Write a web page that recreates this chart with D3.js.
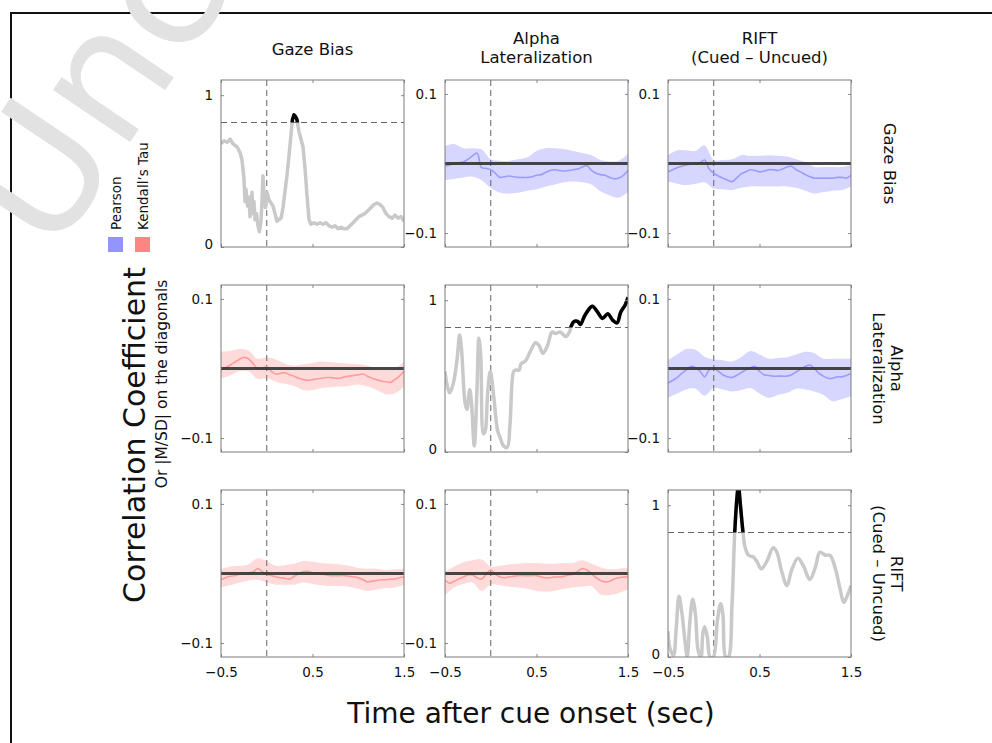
<!DOCTYPE html>
<html>
<head>
<meta charset="utf-8">
<script src="https://cdn.jsdelivr.net/npm/d3@7"></script>
<style>
  body { margin: 0; background: #fff; }
  text { font-family: "DejaVu Sans", "Noto Sans", sans-serif; fill: #111; }
</style>
</head>
<body>
<svg width="992" height="743"></svg>
<script>
// ---- data ----
const measures = ["Gaze Bias", "Alpha Lateralization", "RIFT (Cued – Uncued)"];
const colTitles = [["Gaze Bias"], ["Alpha", "Lateralization"], ["RIFT", "(Cued – Uncued)"]];
const xTicks = [-0.5, 0.5, 1.5];
const corrTicks = [-0.1, 0.1];
const diagTicks = [0, 1];
const threshold = 0.82;

// time grids (sec) for the off-diagonal panels
const tMean = d3.range(41).map(i => -0.5 + i * 0.05);
const tBand = d3.range(21).map(i => -0.5 + i * 0.1);

// diagonal: |M/SD|
const gazeDiagT = [-0.5,-0.467,-0.434,-0.4,-0.369,-0.325,-0.29,-0.27,-0.249,-0.238,-0.227,-0.21,-0.194,-0.183,-0.172,-0.161,-0.15,-0.14,-0.128,-0.112,-0.096,-0.08,-0.063,-0.052,-0.041,-0.03,-0.014,0.003,0.025,0.046,0.068,0.09,0.112,0.134,0.156,0.178,0.2,0.221,0.243,0.265,0.281,0.298,0.314,0.33,0.352,0.374,0.396,0.418,0.44,0.462,0.484,0.516,0.549,0.582,0.615,0.648,0.68,0.713,0.746,0.779,0.811,0.844,0.877,0.91,0.943,0.975,1.008,1.041,1.074,1.107,1.139,1.172,1.205,1.238,1.27,1.303,1.336,1.369,1.402,1.434,1.467,1.5];
const gazeDiagV = [0.68,0.70,0.69,0.71,0.68,0.66,0.62,0.57,0.45,0.30,0.38,0.27,0.33,0.20,0.28,0.36,0.22,0.30,0.18,0.22,0.14,0.10,0.17,0.30,0.47,0.34,0.26,0.36,0.31,0.29,0.27,0.22,0.17,0.18,0.19,0.26,0.37,0.47,0.60,0.74,0.84,0.87,0.86,0.84,0.76,0.71,0.66,0.52,0.34,0.18,0.15,0.16,0.15,0.16,0.15,0.16,0.14,0.13,0.14,0.12,0.13,0.12,0.12,0.14,0.16,0.18,0.20,0.21,0.22,0.24,0.26,0.28,0.29,0.28,0.26,0.22,0.20,0.19,0.21,0.19,0.20,0.17];

const alphaDiagT = [-0.5,-0.48,-0.45,-0.41,-0.37,-0.34,-0.32,-0.28,-0.26,-0.23,-0.21,-0.18,-0.15,-0.13,-0.11,-0.08,-0.06,-0.035,-0.005,0.03,0.075,0.1,0.14,0.18,0.21,0.25,0.27,0.31,0.33,0.38,0.43,0.49,0.53,0.57,0.62,0.67,0.71,0.76,0.82,0.86,0.88,0.91,0.95,0.98,1.02,1.06,1.11,1.17,1.22,1.28,1.33,1.38,1.42,1.47,1.5];
const alphaDiagV = [0.53,0.45,0.39,0.45,0.60,0.77,0.68,0.32,0.28,0.41,0.32,0.04,0.42,0.75,0.64,0.12,0.14,0.38,0.53,0.38,0.14,0.10,0.04,0.03,0.18,0.53,0.54,0.54,0.58,0.60,0.66,0.72,0.70,0.65,0.70,0.79,0.78,0.79,0.76,0.79,0.83,0.86,0.86,0.84,0.89,0.93,0.96,0.92,0.88,0.91,0.87,0.85,0.92,0.97,1.02];

const riftDiagT = [-0.5,-0.48,-0.44,-0.41,-0.38,-0.35,-0.31,-0.29,-0.26,-0.23,-0.2,-0.17,-0.14,-0.12,-0.1,-0.07,-0.04,-0.005,0.04,0.075,0.1,0.13,0.16,0.2,0.23,0.26,0.27,0.29,0.32,0.34,0.38,0.43,0.47,0.52,0.58,0.65,0.69,0.74,0.8,0.85,0.92,0.98,1.05,1.11,1.16,1.22,1.27,1.33,1.38,1.42,1.45,1.5];
const riftDiagV = [0.17,0.06,0.01,0.19,0.40,0.30,0.08,0.0,0.24,0.38,0.28,0.04,0.0,0.15,0.20,0.13,0.0,0.0,0.24,0.35,0.28,0.0,0.0,0.35,0.83,1.09,1.13,1.01,0.82,0.73,0.67,0.66,0.63,0.58,0.63,0.72,0.69,0.57,0.47,0.57,0.65,0.60,0.51,0.59,0.69,0.67,0.67,0.58,0.45,0.36,0.39,0.47];

// off-diagonal: correlation mean (tMean grid) and band lo/hi (tBand grid)
// upper triangle: Pearson, lower triangle: Kendall's Tau
const gazeAlphaMean = [-0.004,-0.002,0.0,0.001,0.002,0.006,0.011,0.015,-0.006,-0.007,-0.009,-0.014,-0.020,-0.019,-0.018,-0.019,-0.020,-0.020,-0.020,-0.019,-0.017,-0.016,-0.013,-0.010,-0.009,-0.010,-0.011,-0.010,-0.009,-0.008,-0.005,-0.003,-0.010,-0.014,-0.016,-0.017,-0.020,-0.022,-0.021,-0.017,-0.010];
const gazeAlphaHi = [0.025,0.028,0.022,0.022,0.020,0.006,0.004,0.004,0.006,0.009,0.018,0.022,0.022,0.021,0.018,0.015,0.012,0.005,0.003,0.004,0.014];
const gazeAlphaLo = [-0.024,-0.022,-0.020,-0.019,-0.024,-0.035,-0.042,-0.043,-0.042,-0.039,-0.037,-0.033,-0.030,-0.027,-0.026,-0.027,-0.030,-0.040,-0.046,-0.049,-0.041];

const gazeRiftMean = [-0.012,-0.009,-0.006,-0.004,-0.002,-0.001,-0.001,0.001,0.005,-0.008,-0.014,-0.018,-0.021,-0.024,-0.026,-0.021,-0.015,-0.012,-0.009,-0.010,-0.012,-0.011,-0.009,-0.009,-0.010,-0.008,-0.005,-0.004,-0.009,-0.012,-0.016,-0.019,-0.021,-0.021,-0.021,-0.021,-0.021,-0.020,-0.020,-0.021,-0.017];
const gazeRiftHi = [0.012,0.019,0.019,0.018,0.026,0.005,0.005,0.006,0.012,0.011,0.011,0.012,0.011,0.010,0.006,0.002,-0.005,-0.005,-0.005,-0.005,-0.002];
const gazeRiftLo = [-0.026,-0.029,-0.031,-0.029,-0.027,-0.036,-0.037,-0.038,-0.035,-0.033,-0.033,-0.033,-0.033,-0.033,-0.035,-0.039,-0.043,-0.041,-0.039,-0.038,-0.033];

const alphaRiftMean = [-0.021,-0.017,-0.013,-0.007,-0.002,0.003,0.001,-0.004,-0.012,-0.002,0.0,-0.004,-0.009,-0.012,-0.013,-0.010,-0.006,-0.002,0.001,0.003,-0.004,-0.009,-0.010,-0.011,-0.011,-0.011,-0.011,-0.009,-0.005,-0.001,0.003,0.005,0.0,-0.007,-0.011,-0.014,-0.014,-0.012,-0.012,-0.010,-0.007];
const alphaRiftHi = [0.012,0.020,0.028,0.027,0.017,0.013,0.012,0.010,0.016,0.025,0.020,0.014,0.015,0.016,0.020,0.024,0.022,0.014,0.014,0.014,0.014];
const alphaRiftLo = [-0.042,-0.036,-0.030,-0.029,-0.039,-0.028,-0.030,-0.033,-0.031,-0.028,-0.036,-0.042,-0.038,-0.035,-0.029,-0.030,-0.033,-0.038,-0.047,-0.044,-0.040];

const alphaGazeMean = [-0.002,0.001,0.005,0.009,0.013,0.016,0.014,0.007,0.0,0.001,0.002,-0.004,-0.008,-0.007,-0.006,-0.009,-0.011,-0.014,-0.016,-0.017,-0.016,-0.015,-0.014,-0.013,-0.013,-0.014,-0.014,-0.012,-0.011,-0.010,-0.009,-0.008,-0.011,-0.014,-0.016,-0.018,-0.019,-0.020,-0.016,-0.011,-0.004];
const alphaGazeHi = [0.024,0.025,0.028,0.026,0.014,0.016,0.013,0.007,0.004,0.006,0.008,0.010,0.009,0.008,0.007,0.006,0.004,0.0,-0.001,0.0,0.010];
const alphaGazeLo = [-0.014,-0.010,-0.004,-0.004,-0.015,-0.014,-0.019,-0.022,-0.025,-0.031,-0.031,-0.028,-0.027,-0.026,-0.025,-0.023,-0.026,-0.031,-0.037,-0.036,-0.026];

const riftGazeMean = [-0.009,-0.006,-0.004,-0.003,-0.001,0.0,0.001,0.002,0.007,0.003,-0.001,-0.003,-0.005,-0.006,-0.007,-0.008,-0.004,0.0,0.003,0.003,0.001,0.0,-0.001,-0.002,-0.003,-0.003,-0.003,-0.003,-0.004,-0.005,-0.006,-0.009,-0.012,-0.011,-0.010,-0.009,-0.009,-0.008,-0.008,-0.006,-0.005];
const riftGazeHi = [0.006,0.010,0.011,0.013,0.022,0.018,0.011,0.012,0.014,0.018,0.017,0.015,0.014,0.013,0.011,0.008,0.007,0.007,0.005,0.006,0.007];
const riftGazeLo = [-0.020,-0.017,-0.013,-0.010,-0.009,-0.013,-0.016,-0.016,-0.016,-0.013,-0.015,-0.017,-0.018,-0.018,-0.019,-0.022,-0.025,-0.023,-0.021,-0.020,-0.016];

const riftAlphaMean = [-0.010,-0.014,-0.011,-0.008,-0.005,-0.002,-0.002,-0.006,-0.008,-0.001,0.005,-0.001,-0.005,-0.006,-0.005,-0.004,-0.003,-0.003,-0.003,-0.003,-0.003,-0.005,-0.006,-0.006,-0.005,-0.005,-0.004,-0.002,-0.001,0.003,0.007,0.005,0.0,-0.006,-0.010,-0.012,-0.011,-0.008,-0.006,-0.005,-0.005];
const riftAlphaHi = [0.003,0.010,0.016,0.019,0.020,0.010,0.011,0.013,0.014,0.015,0.015,0.014,0.014,0.015,0.015,0.019,0.014,0.009,0.006,0.007,0.008];
const riftAlphaLo = [-0.031,-0.020,-0.015,-0.013,-0.025,-0.016,-0.017,-0.019,-0.020,-0.022,-0.025,-0.026,-0.025,-0.022,-0.020,-0.019,-0.018,-0.030,-0.031,-0.028,-0.023];

const diagSeries = [
  { t: gazeDiagT, v: gazeDiagV, curve: d3.curveLinear },
  { t: alphaDiagT, v: alphaDiagV, curve: d3.curveCatmullRom },
  { t: riftDiagT, v: riftDiagV, curve: d3.curveCatmullRom }
];
const offDiag = {
  "0-1": { mean: gazeAlphaMean, hi: gazeAlphaHi, lo: gazeAlphaLo, kind: "pearson" },
  "0-2": { mean: gazeRiftMean, hi: gazeRiftHi, lo: gazeRiftLo, kind: "pearson" },
  "1-2": { mean: alphaRiftMean, hi: alphaRiftHi, lo: alphaRiftLo, kind: "pearson" },
  "1-0": { mean: alphaGazeMean, hi: alphaGazeHi, lo: alphaGazeLo, kind: "kendall" },
  "2-0": { mean: riftGazeMean, hi: riftGazeHi, lo: riftGazeLo, kind: "kendall" },
  "2-1": { mean: riftAlphaMean, hi: riftAlphaHi, lo: riftAlphaLo, kind: "kendall" }
};
const colors = {
  pearson: { line: "#9c9cff", band: "#d6d6ff", key: "#9494ff" },
  kendall: { line: "#ff9c9c", band: "#ffdada", key: "#ff8585" }
};

// ---- layout ----
const svg = d3.select("svg");
const colX = [221, 445, 668], rowY = [80, 285, 490];
const pw = 183, ph = 167;

const fmt = d => (d < 0 ? "\u2212" : "") + Math.abs(d);

// outer frame
svg.append("rect").attr("x", 11).attr("y", 13).attr("width", 1000).attr("height", 1000)
  .attr("fill", "none").attr("stroke", "#111").attr("stroke-width", 2);

// watermark (over the frame, under everything else)
svg.append("text").attr("transform", "translate(52,258) rotate(-56)")
  .style("font-size", "170px").style("fill", "#e2e2e2").text("Uncorrected Proof");

function drawPanel(r, c) {
  const g = svg.append("g").attr("transform", `translate(${colX[c]},${rowY[r]})`);
  const diag = r === c;
  const x = d3.scaleLinear().domain([-0.5, 1.5]).range([0, pw]);
  const y = diag ? d3.scaleLinear().domain([0, 1.1]).range([ph, 0])
                 : d3.scaleLinear().domain([-0.12, 0.12]).range([ph, 0]);
  const clipId = `clip-${r}-${c}`;
  g.append("clipPath").attr("id", clipId).append("rect").attr("width", pw).attr("height", ph);
  const body = g.append("g").attr("clip-path", `url(#${clipId})`);

  if (diag) {
    const s = diagSeries[r];
    const pts = s.t.map((t, i) => [t, s.v[i]]);
    const line = d3.line().x(d => x(d[0])).y(d => y(d[1])).curve(s.curve);
    // dashed markers
    body.append("line").attr("x1", 0).attr("x2", pw).attr("y1", y(threshold)).attr("y2", y(threshold))
      .attr("stroke", "#666").attr("stroke-dasharray", "6,4").attr("stroke-width", 1);
    body.append("line").attr("x1", x(0)).attr("x2", x(0)).attr("y1", 0).attr("y2", ph)
      .attr("stroke", "#666").attr("stroke-dasharray", "6,4").attr("stroke-width", 1);
    body.append("path").datum(pts).attr("d", line).attr("fill", "none")
      .attr("stroke", "#c9c9c9").attr("stroke-width", 3.5).attr("stroke-linejoin", "round");
    // above-threshold portion in black
    const topId = `top-${r}-${c}`;
    g.append("clipPath").attr("id", topId).append("rect")
      .attr("width", pw).attr("height", y(threshold));
    body.append("g").attr("clip-path", `url(#${topId})`)
      .append("path").datum(pts).attr("d", line).attr("fill", "none")
      .attr("stroke", "#000").attr("stroke-width", 3.5).attr("stroke-linejoin", "round");
  } else {
    const s = offDiag[`${r}-${c}`];
    const col = colors[s.kind];
    const band = tBand.map((t, i) => ({ t, lo: s.lo[i], hi: s.hi[i] }));
    body.append("path").datum(band)
      .attr("d", d3.area().x(d => x(d.t)).y0(d => y(d.lo)).y1(d => y(d.hi)).curve(d3.curveCatmullRom))
      .attr("fill", col.band);
    body.append("line").attr("x1", x(0)).attr("x2", x(0)).attr("y1", 0).attr("y2", ph)
      .attr("stroke", "#666").attr("stroke-dasharray", "6,4").attr("stroke-width", 1);
    body.append("path").datum(tMean.map((t, i) => [t, s.mean[i]]))
      .attr("d", d3.line().x(d => x(d[0])).y(d => y(d[1])).curve(d3.curveCatmullRom))
      .attr("fill", "none").attr("stroke", col.line).attr("stroke-width", 1.6);
    body.append("line").attr("x1", 0).attr("x2", pw).attr("y1", y(0)).attr("y2", y(0))
      .attr("stroke", "#333").attr("stroke-width", 3).attr("stroke-opacity", 0.9);
  }

  // axes: small inward ticks on all four sides, labels left and (bottom row) below
  const yt = diag ? diagTicks : corrTicks;
  const axisStyle = sel => {
    sel.select(".domain").remove();
    sel.selectAll(".tick line").attr("stroke", "#888");
    sel.selectAll(".tick text").attr("fill", "#222")
      .style("font-family", '"DejaVu Sans", sans-serif').style("font-size", "13.5px");
  };
  const left = g.append("g")
    .call(d3.axisLeft(y).tickValues(yt).tickSize(-3).tickPadding(8).tickFormat(fmt)).call(axisStyle);
  if (diag) left.selectAll(".tick text").filter(d => d === 0).attr("dy", "0.1em");
  g.append("g").attr("transform", `translate(${pw},0)`)
    .call(d3.axisRight(y).tickValues(yt).tickSize(-3).tickFormat("")).call(axisStyle);
  g.append("g").call(d3.axisTop(x).tickValues(xTicks).tickSize(-3).tickFormat("")).call(axisStyle);
  g.append("g").attr("transform", `translate(0,${ph})`)
    .call(d3.axisBottom(x).tickValues(xTicks).tickSize(-3).tickPadding(10)
      .tickFormat(r === 2 ? fmt : "")).call(axisStyle);

  g.append("rect").attr("width", pw).attr("height", ph)
    .attr("fill", "none").attr("stroke", "#7a7a7a").attr("stroke-width", 1);
}

for (let r = 0; r < 3; r++) for (let c = 0; c < 3; c++) drawPanel(r, c);

// column titles
colTitles.forEach((lines, c) => {
  const t = svg.append("text").attr("x", colX[c] + pw / 2)
    .attr("y", lines.length === 1 ? 55 : 44)
    .attr("text-anchor", "middle").style("font-size", "16.5px");
  lines.forEach((l, i) => t.append("tspan").attr("x", colX[c] + pw / 2).attr("dy", i ? 19 : 0).text(l));
});

// row titles on the right, rotated
colTitles.forEach((lines, r) => {
  const bx = lines.length === 1 ? 884 : 891;
  const t = svg.append("text")
    .attr("transform", `translate(${bx},${rowY[r] + ph / 2}) rotate(90)`)
    .attr("text-anchor", "middle").style("font-size", "16.5px");
  lines.forEach((l, i) => t.append("tspan").attr("x", 0).attr("dy", i ? 18 : 0).text(l));
});

// legend
const legend = [["Pearson", colors.pearson.key], ["Kendall\u2019s Tau", colors.kendall.key]];
legend.forEach(([name, fill], i) => {
  const lx = 108 + i * 27;
  svg.append("rect").attr("x", lx).attr("y", 237).attr("width", 15).attr("height", 15).attr("fill", fill);
  svg.append("text").attr("transform", `translate(${lx + 13},230) rotate(-90)`)
    .style("font-size", "13.5px").text(name);
});

// y-axis titles
svg.append("text").attr("transform", "translate(145,435) rotate(-90)")
  .attr("text-anchor", "middle").style("font-size", "30px").text("Correlation Coefficient");
svg.append("text").attr("transform", "translate(167,384) rotate(-90)")
  .attr("text-anchor", "middle").style("font-size", "15.5px").text("Or |M/SD| on the diagonals");

// x-axis title
svg.append("text").attr("x", 531).attr("y", 723).attr("text-anchor", "middle")
  .style("font-size", "28px").text("Time after cue onset (sec)");
</script>
</body>
</html>
